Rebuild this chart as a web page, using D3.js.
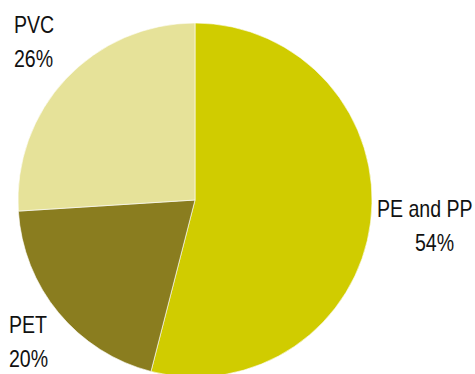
<!DOCTYPE html>
<html>
<head>
<meta charset="utf-8">
<script src="https://cdn.jsdelivr.net/npm/d3@7"></script>
<style>
  html, body { margin: 0; padding: 0; background: #fff; }
  svg { display: block; }
  text { font-family: "Liberation Sans", "Roboto", sans-serif; font-size: 23px; fill: #111; }
</style>
</head>
<body>
<svg id="chart" width="475" height="374"></svg>
<script>
// Share of plastic types
const categories = ["PE and PP", "PET", "PVC"];
const shares = [54, 20, 26];

const width = 475, height = 374;
const cx = 195, cy = 200, radius = 177;

const color = d3.scaleOrdinal()
  .domain(categories)
  .range(["#d0cc00", "#8a7d1f", "#e6e299"]);

const svg = d3.select("#chart");
const g = svg.append("g").attr("transform", `translate(${cx},${cy})`);

const pie = d3.pie().sort(null).value(d => d.value);
const arc = d3.arc().innerRadius(0).outerRadius(radius);

const data = categories.map((c, i) => ({ name: c, value: shares[i] }));

g.selectAll("path")
  .data(pie(data))
  .join("path")
  .attr("d", arc)
  .attr("fill", d => color(d.data.name))
  .attr("stroke", "#fff")
  .attr("stroke-width", 0.6);

// Label placement for each slice: name line at (x, y), percent line at (x2, y + 34)
const labelPos = {
  "PE and PP": { x: 377, y: 217, x2: 415 },
  "PET": { x: 9, y: 333, x2: 9 },
  "PVC": { x: 14, y: 33, x2: 14 }
};

// Condensed lettering: narrow the glyphs horizontally
const squeeze = 0.85;
const labels = svg.append("g");
function addText(x, y, s) {
  labels.append("text")
    .attr("transform", `translate(${x},${y}) scale(${squeeze},1)`)
    .text(s);
}
data.forEach(d => {
  const p = labelPos[d.name];
  addText(p.x, p.y, d.name);
  addText(p.x2, p.y + 34, d.value + "%");
});
</script>
</body>
</html>
